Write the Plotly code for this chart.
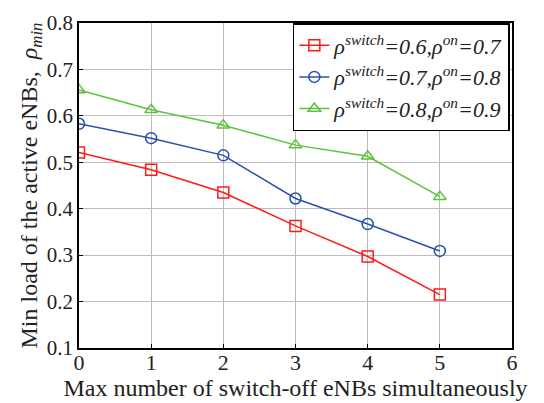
import plotly.graph_objects as go

x_vals = [0, 1, 2, 3, 4, 5]
red_vals = [0.521, 0.484, 0.435, 0.363, 0.297, 0.215]
blue_vals = [0.583, 0.552, 0.515, 0.422, 0.367, 0.309]
green_vals = [0.656, 0.613, 0.580, 0.537, 0.513, 0.426]
names = [
    "<i>ρ<sup>switch</sup>=0.6,ρ<sup>on</sup>=0.7</i>",
    "<i>ρ<sup>switch</sup>=0.7,ρ<sup>on</sup>=0.8</i>",
    "<i>ρ<sup>switch</sup>=0.8,ρ<sup>on</sup>=0.9</i>",
]
x_ticks = [0, 1, 2, 3, 4, 5, 6]
y_ticks = [0.1, 0.2, 0.3, 0.4, 0.5, 0.6, 0.7, 0.8]
y_tick_text = ["0.1", "0.2", "0.3", "0.4", "0.5", "0.6", "0.7", "0.8"]

fig = go.Figure()
styles = [
    (red_vals, "#ff1a1a", "square-open"),
    (blue_vals, "#2a4fb0", "circle-open"),
    (green_vals, "#5cc23a", "triangle-up-open"),
]
for (vals, col, sym), nm in zip(styles, names):
    fig.add_trace(go.Scatter(
        x=x_vals, y=vals, name=nm, mode="lines+markers",
        line=dict(color=col, width=1.5),
        marker=dict(symbol=sym, size=11, color=col, line=dict(width=1.5, color=col)),
    ))

font = "Liberation Serif, Times New Roman, serif"
fig.update_layout(
    width=544, height=403,
    margin=dict(l=79, r=32, t=11, b=53),
    paper_bgcolor="white", plot_bgcolor="white",
    font=dict(family=font, size=22, color="#222"),
    showlegend=True,
    legend=dict(
        x=0.995, y=1.0, xanchor="right", yanchor="top",
        bgcolor="white", bordercolor="black", borderwidth=1.5,
        font=dict(family=font, size=22, color="#222"),
        tracegroupgap=0, itemwidth=30,
    ),
    xaxis=dict(
        range=[0, 6], tickvals=x_ticks, showgrid=True, gridcolor="#bdbdbd", gridwidth=1,
        showline=True, linecolor="black", linewidth=1.5, mirror=True,
        ticks="inside", ticklen=4, tickcolor="black", zeroline=False,
        ticklabelstandoff=-6,
        title=dict(text="Max number of switch-off eNBs simultaneously", standoff=0,
                   font=dict(size=24)),
        tickfont=dict(size=22),
    ),
    yaxis=dict(
        range=[0.0999, 0.8001], tickvals=y_ticks, ticktext=y_tick_text, showgrid=True,
        gridcolor="#bdbdbd", gridwidth=1,
        showline=True, linecolor="black", linewidth=1.5, mirror=True,
        ticks="inside", ticklen=4, tickcolor="black", zeroline=False,
        title=dict(text="Min load of the active eNBs,  <i>ρ<sub>min</sub></i>", standoff=2,
                   font=dict(size=24)),
        tickfont=dict(size=21),
    ),
)
fig.write_html("out.html")
